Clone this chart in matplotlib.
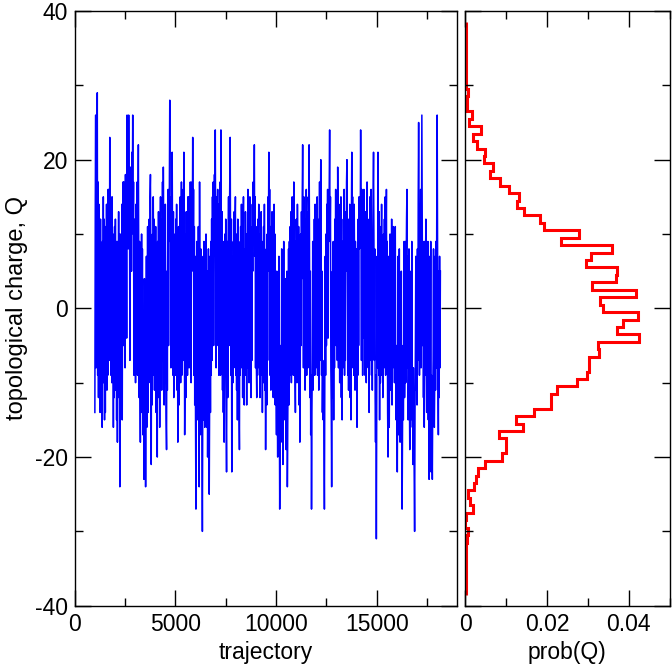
import numpy as np
import matplotlib
matplotlib.use("Agg")
import matplotlib.pyplot as plt
from matplotlib.ticker import MultipleLocator

plt.rcParams['font.family'] = ['Liberation Sans', 'DejaVu Sans']
plt.rcParams['font.size'] = 16.5
plt.rcParams['axes.unicode_minus'] = False

#%% datos: historia de la carga topologica (una medida cada 20 trayectorias)

traj_inicio = 1000
traj_paso = 20
carga = [
    # 1000 - 1980
    -14, 13, 26, -8, 15, 5, 29, -9, 17, -12, 14, -5, 10, -14, 12, -9, 7, -11, -16, 9,
    -8, 15, -10, 12, -15, 8, -14, 11, -7, 14, -11, 9, -9, 16, 5, 16, -7, 23, 9, 15,
    -9, 13, -10, 15, -5, 10, -16, 8, -12, 11,
    # 2000 - 2980
    -7, 12, -11, 9, -15, 7, -18, 9, -9, 13, -12, 5, -24, 10, -13, 8, -9, 14, -15, 11,
    17, -5, 17, 7, 12, -8, 18, 9, 15, -4, 26, 12, 20, 8, 26, 14, 16, -7, 19, 11,
    16, 5, 21, 13, 26, 10, 17, -9, 12, -5,
    # 3000 - 3980
    9, -10, 14, -7, 11, 17, -9, 13, 22, 7, -12, 9, -8, -18, 5, -14, 10, -9, 8, -17,
    -5, -12, -23, 4, -15, -9, -24, -11, 7, -16, -5, 11, -14, 9, -10, 12, -7, 15, 18, 5,
    -21, 8, -13, 10, -9, 15, 4, 12, -11, 9,
    # 4000 - 4980
    -8, 11, -14, 7, -9, -20, 9, -12, 13, -5, 10, -16, 8, 15, -9, 12, -11, 5, 17, -7,
    19, 9, -13, 7, -10, 14, -8, -15, -19, 5, -11, 9, 16, -5, 12, 16, 28, 9, 15, -8,
    11, 15, 21, 7, -9, 13, -12, 9, -5, 10,
    # 5000 - 5980
    -9, 12, -7, 14, -11, 8, -18, -5, 11, -13, 9, -8, 15, -10, 7, 17, -9, 12, 4, 16,
    -7, 21, 9, -17, -8, 10, -12, 13, -5, 9, -9, 15, 7, 15, -8, 12, -4, 17, 8, -10,
    14, 17, 9, 23, 5, 16, -9, 11, -13, 7,
    # 6000 - 6980
    -15, -27, -9, 9, -15, 5, -12, 11, -9, -24, 17, -7, -17, 8, -13, -5, -18, -30, -10, 7,
    -15, 9, -11, -16, 4, -14, 10, -8, -16, 5, -20, -9, 8, -15, -25, -12, 7, -14, 9, -9,
    12, -7, 15, 4, 17, -5, 11, 18, 7, 24,
    # 7000 - 7980
    9, -8, 15, -5, 12, 16, 4, 14, -9, 11, 7, 17, -9, 24, 10, -7, 13, -11, 9, -14,
    5, -18, -9, 10, -7, 12, -15, -22, -8, 9, -12, 7, 15, -5, 11, 17, 23, 8, -9, 12,
    -22, -13, 7, -10, 9, -8, 13, 4, 11, 15,
    # 8000 - 8980
    -9, 10, -11, 8, -15, 12, -7, 9, -13, -19, 5, -9, 11, -8, 14, -4, 9, -12, 7, 15,
    -10, -13, 8, -9, 13, -5, 10, -13, 9, 4, 16, -8, 12, -10, 8, 15, -5, 11, -12, 9,
    -7, 14, 5, 17, 9, 12, 22, 7, 15, -8,
    # 9000 - 9980
    11, -7, -12, 9, -9, 12, 5, 14, -8, 10, -12, 7, -9, 13, -5, 9, -14, 4, -10, 11,
    -8, 14, -11, -5, -19, -9, 8, -13, 10, -7, 15, 9, 21, 5, 16, -9, 11, -11, 8, -5,
    13, -9, 9, -12, 7, 14, -8, 10, -13, 5,
    # 10000 - 10980
    -9, -17, 5, -13, -20, -8, -16, 7, -12, -27, -15, -5, -18, -9, 8, -16, -11, -21, -7, 9,
    -14, -8, -15, 4, -12, -19, -9, 5, -24, -15, -7, 8, -13, 9, -9, 11, -5, 13, -10, 7,
    15, -4, 10, -9, 17, 5, 12, -8, -14, 9,
    # 11000 - 11980
    -7, 12, -10, 14, 5, -9, 11, -13, 8, -18, -9, 10, -5, 13, 4, 15, 22, 9, -8, 15,
    -7, 12, -11, 9, -4, 16, -9, 7, 13, -8, 15, 11, 22, 8, -12, 5, -17, -9, -27, -14,
    -7, 9, -11, 8, -5, 12, -9, 14, 4, -8,
    # 12000 - 12980
    10, -5, 15, -9, 12, 7, -11, 9, 17, -7, 11, 20, 8, -9, 5, -14, -7, -15, -9, -17,
    -27, -12, 7, -9, 10, -5, 14, 8, 16, -4, 12, 9, 16, 24, 9, 15, -8, -13, -24, -10,
    5, -12, 9, -15, 7, -8, 12, 4, 16, -5,
    # 13000 - 13980
    8, 13, -7, 19, 9, -8, 14, 5, -10, 11, -5, 15, -12, 7, -15, 9, -8, 12, 4, 16,
    -9, 10, -7, 13, 5, 17, 20, 9, -9, 12, -11, 8, -7, 14, -12, 5, -15, 11, 21, 7,
    15, -8, 10, -9, 14, 4, -11, 9, -7, 8,
    # 14000 - 14980
    -9, -16, 5, -9, 12, -5, 15, 8, 15, 10, 24, 12, -7, 16, 7, -9, 14, 5, 16, -4,
    11, -9, 13, 7, -10, 9, 17, -5, 12, -8, 9, -14, 5, 15, -7, 11, 16, -9, 8, -11,
    10, 15, 21, 9, -7, 8, -12, -18, -9, -31,
    # 15000 - 15980
    -12, 7, -8, 21, 9, -9, 13, -15, 5, -10, 11, -7, 14, -9, 8, -12, 5, 10, -8, 12,
    -5, 15, -9, 9, 16, -7, 9, -14, -20, -9, 7, -16, -5, 10, -11, 8, -9, 12, -13, 5,
    -8, 11, -4, 9, -10, 7, 11, -9, -15, -5,
    # 16000 - 16980
    -11, -22, -8, 7, -17, -9, 8, -14, -18, -7, -12, 5, -17, -27, -15, -5, -15, -9, 9, -12,
    -7, 9, -10, 5, 12, 16, -8, 7, -15, -9, 8, -11, -19, -7, -16, 5, -10, 9, -15, -12,
    -21, -8, -16, -25, -30, -14, -5, 7, -11, 5,
    # 17000 - 17980
    -13, 8, -7, 15, 25, 11, -9, 14, 5, 16, -8, 10, 26, 12, -5, 9, -12, 7, -16, 9,
    -9, 5, 12, -8, -14, 4, -10, 9, -15, -5, -23, -11, 7, -13, 9, -22, -9, -17, -23, -12,
    -7, 8, -15, -16, -9, 7, -11, 9, -8, 13,
    # 18000 - 18160
    26, 8, -9, -17, 5, -12, 7, -8, 5,
]
trayectoria = traj_inicio + traj_paso * np.arange(len(carga))

#%% distribucion de Q (bins de anchura 1 centrados en enteros)

q_centros = list(range(-38, 39))
prob_q = [
    0.0001, 0.0001, 0.0001, 0.0001, 0.0001, 0.0001, 0.0001,          # -38 .. -32
    0.0003, 0.0006, 0.0, 0.0002, 0.0020, 0.0012, 0.0006, 0.0022,     # -31 .. -24
    0.0027, 0.0030, 0.0049, 0.0090, 0.0100, 0.0100, 0.0082, 0.0141,  # -23 .. -16
    0.0125, 0.0168, 0.0209, 0.0209, 0.0225, 0.0273, 0.0298, 0.0302,  # -15 .. -8
    0.0302, 0.0328, 0.0324, 0.0425, 0.0371, 0.0385, 0.0422,          # -7 .. -1
    0.0336,                                                          # 0
    0.0329, 0.0418, 0.0309, 0.0368, 0.0371, 0.0295, 0.0307, 0.0360,  # 1 .. 8
    0.0234, 0.0278, 0.0193, 0.0183, 0.0143, 0.0126, 0.0131, 0.0107,  # 9 .. 16
    0.0085, 0.0060, 0.0068, 0.0045, 0.0049, 0.0028, 0.0018, 0.0039,  # 17 .. 24
    0.0010, 0.0016, 0.0003, 0.0003, 0.0006,                          # 25 .. 29
    0.0001, 0.0001, 0.0001, 0.0001, 0.0001, 0.0001, 0.0001, 0.0001, 0.0001,  # 30 .. 38
]
bordes = np.append(np.array(q_centros) - 0.5, q_centros[-1] + 0.5)

#%% figura

fig = plt.figure(figsize=(6.72, 6.66), dpi=100)
ax1 = fig.add_axes([0.1112, 0.0905, 0.5693, 0.8930])
ax2 = fig.add_axes([0.6924, 0.0905, 0.3039, 0.8930])

ax1.plot(trayectoria, carga, color='#0000ff', lw=1.1)
ax2.stairs(prob_q, bordes, orientation='horizontal', baseline=None,
           color='#ff0000', lw=2.2)

ax1.set_xlim(0, 19000)
ax1.set_ylim(-40, 40)
ax1.xaxis.set_major_locator(MultipleLocator(5000))
ax1.xaxis.set_minor_locator(MultipleLocator(2500))
ax1.yaxis.set_major_locator(MultipleLocator(20))
ax1.yaxis.set_minor_locator(MultipleLocator(10))
ax1.set_xlabel("trajectory", labelpad=4)
ax1.set_ylabel("topological charge, Q", fontsize=17, labelpad=5)

ax2.set_xlim(0, 0.05)
ax2.set_ylim(-40, 40)
ax2.set_xticks([0, 0.02, 0.04], ['0', '0.02', '0.04'])
ax2.xaxis.set_minor_locator(MultipleLocator(0.01))
ax2.yaxis.set_major_locator(MultipleLocator(20))
ax2.yaxis.set_minor_locator(MultipleLocator(10))
ax2.tick_params(labelleft=False)
ax2.set_xlabel("prob(Q)", labelpad=4)

for ax in (ax1, ax2):
    ax.tick_params(which='both', direction='in', top=True, right=True, width=1)
    ax.tick_params(which='major', length=11.5)
    ax.tick_params(which='minor', length=5.5)
    ax.tick_params(axis='x', pad=5)
    ax.tick_params(axis='y', pad=5)
    for s in ax.spines.values():
        s.set_linewidth(1)

fig.savefig("out.png", dpi=100)
